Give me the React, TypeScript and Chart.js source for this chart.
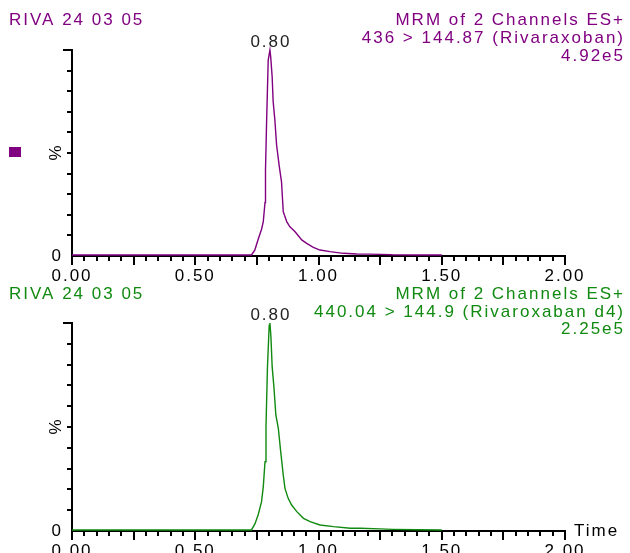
import React, { useEffect, useRef } from 'react';
import { Chart, registerables } from 'chart.js';

Chart.register(...registerables);

const FONT = '"Liberation Sans", Arial, sans-serif';
const FONT_SIZE = 17;
const SPACING = '2px';

const sampleName = 'RIVA 24 03 05';
const topHeader = ['MRM of 2 Channels ES+', '436 > 144.87 (Rivaraxoban)', '4.92e5'];
const bottomHeader = ['MRM of 2 Channels ES+', '440.04 > 144.9 (Rivaroxaban d4)', '2.25e5'];
const xTickLabels = ['0.00', '0.50', '1.00', '1.50', '2.00'];
const yZeroLabel = '0';
const yUnitLabel = '%';
const xAxisTitle = 'Time';

// Channel 1 (Rivaroxaban), relative intensity in %
const topTimes = [0, 0.728, 0.742, 0.755, 0.769, 0.776, 0.783, 0.785, 0.789, 0.796, 0.803, 0.806, 0.812, 0.816, 0.823, 0.830, 0.841, 0.850, 0.857, 0.871, 0.884, 0.905, 0.932, 0.952, 0.979, 1.006, 1.047, 1.101, 1.155, 1.2, 1.25, 1.3, 1.4, 1.5];
const topValues = [0.5, 0.5, 3, 8, 13, 16.7, 26, 41.7, 62.8, 95.1, 100, 96.8, 87, 75, 66, 53.9, 43.4, 36, 21.5, 16.7, 14.2, 11.8, 7.8, 6.1, 4.2, 2.9, 2.1, 1.3, 1.0, 0.9, 0.8, 0.6, 0.5, 0.5];

// Channel 2 (Rivaroxaban d4), relative intensity in %
const bottomTimes = [0, 0.728, 0.742, 0.755, 0.769, 0.776, 0.783, 0.787, 0.793, 0.800, 0.803, 0.807, 0.812, 0.819, 0.827, 0.837, 0.846, 0.857, 0.864, 0.877, 0.891, 0.912, 0.939, 0.966, 1.006, 1.061, 1.129, 1.17, 1.25, 1.3, 1.4, 1.5];
const bottomValues = [0.5, 0.5, 3.4, 7.7, 14.1, 21.3, 33.3, 50.2, 79, 99, 100, 93.4, 79, 69.4, 55.8, 49.4, 38.9, 26.9, 20.5, 15.7, 12.5, 9.3, 6.1, 4.5, 2.9, 2.1, 1.3, 1.3, 1.0, 0.8, 0.6, 0.5];

type PanelProps = {
  top: number;
  height: number;
  plotTop: number;
  zeroY: number;
  times: number[];
  values: number[];
  color: string;
  header: string[];
  headerY: number[];
  marker: boolean;
  timeTitle: boolean;
};

function Panel(p: PanelProps) {
  const ref = useRef<HTMLCanvasElement | null>(null);
  useEffect(() => {
    if (!ref.current) return;
    const setSpacing = (chart: any) => {
      try { (chart.ctx as any).letterSpacing = SPACING; } catch (e) { /* ignore */ }
    };
    const plugin = {
      id: 'masslynx',
      beforeUpdate: setSpacing,
      beforeLayout: setSpacing,
      beforeDraw: setSpacing,
      afterDraw: (chart: any) => {
        const ctx = chart.ctx as CanvasRenderingContext2D;
        const xs = chart.scales.x;
        const ys = chart.scales.y;
        const axisX = chart.chartArea.left;
        const axisY = ys.getPixelForValue(0);
        ctx.save();
        (ctx as any).letterSpacing = SPACING;
        ctx.strokeStyle = '#000';
        ctx.lineWidth = 2;
        ctx.beginPath();
        for (let i = 0; i <= 40; i++) {
          const px = Math.round(xs.getPixelForValue(i * 0.05));
          const len = i % 5 === 0 ? 9 : 5;
          ctx.moveTo(px, axisY);
          ctx.lineTo(px, axisY + len);
        }
        for (let i = 1; i <= 10; i++) {
          const py = Math.round(ys.getPixelForValue(i * 10));
          const len = i === 10 ? 9 : 5;
          ctx.moveTo(axisX - len, py);
          ctx.lineTo(axisX, py);
        }
        ctx.stroke();

        ctx.font = `${FONT_SIZE}px ${FONT}`;
        ctx.textBaseline = 'middle';
        // headers
        ctx.fillStyle = p.color;
        ctx.textAlign = 'left';
        ctx.fillText(sampleName, 9, p.headerY[0]);
        ctx.textAlign = 'right';
        p.header.forEach((t, i) => ctx.fillText(t, 625, p.headerY[i]));

        // % unit label
        ctx.save();
        ctx.fillStyle = '#000';
        ctx.translate(56, ys.getPixelForValue(50));
        ctx.rotate(-Math.PI / 2);
        ctx.textAlign = 'center';
        ctx.fillText(yUnitLabel, 1, 0);
        ctx.restore();

        if (p.marker) {
          ctx.fillStyle = p.color;
          ctx.fillRect(9, 147, 12, 10);
        }

        // peak label
        let mi = 0;
        p.values.forEach((v, i) => { if (v > p.values[mi]) mi = i; });
        ctx.fillStyle = '#222';
        ctx.textAlign = 'center';
        ctx.fillText(p.times[mi].toFixed(2), xs.getPixelForValue(p.times[mi]) + 1, ys.getPixelForValue(p.values[mi]) - 8);

        if (p.timeTitle) {
          ctx.fillStyle = '#000';
          ctx.textAlign = 'left';
          ctx.fillText(xAxisTitle, 574, axisY);
        }
        ctx.restore();
      },
    };

    const chart = new Chart(ref.current, {
      type: 'line',
      data: {
        datasets: [
          {
            data: p.times.map((t, i) => ({ x: t, y: p.values[i] })),
            borderColor: p.color,
            borderWidth: 1.4,
            pointRadius: 0,
            tension: 0,
            fill: false,
            clip: false as any,
          },
        ],
      },
      options: {
        animation: false,
        responsive: false,
        maintainAspectRatio: false,
        events: [],
        layout: { padding: { top: p.plotTop, right: 65, left: 0, bottom: 0 } },
        plugins: { legend: { display: false }, tooltip: { enabled: false } },
        scales: {
          x: {
            type: 'linear',
            min: 0,
            max: 2,
            grid: { display: true, drawOnChartArea: false, drawTicks: false },
            border: { display: true, color: '#000', width: 2 },
            ticks: {
              stepSize: 0.5,
              autoSkip: false,
              maxRotation: 0,
              padding: 10,
              color: '#000',
              font: { family: FONT, size: FONT_SIZE },
              callback: (_v: any, i: number) => xTickLabels[i] ?? '',
            },
            afterFit: (s: any) => { s.height = p.height - p.zeroY; },
          },
          y: {
            min: 0,
            max: 100,
            grid: { display: true, drawOnChartArea: false, drawTicks: false },
            border: { display: true, color: '#000', width: 2 },
            ticks: {
              stepSize: 50,
              padding: 9,
              color: '#000',
              font: { family: FONT, size: FONT_SIZE },
              callback: (v: any) => (Number(v) === 0 ? yZeroLabel : ''),
            },
            afterFit: (s: any) => { s.width = 72; },
          },
        },
      } as any,
      plugins: [plugin as any],
    });
    return () => chart.destroy();
  }, []);
  return (
    <canvas
      ref={ref}
      width={630}
      height={p.height}
      style={{ position: 'absolute', left: 0, top: p.top, width: 630, height: p.height }}
    />
  );
}

export default function App() {
  useEffect(() => {
    document.body.style.margin = '0';
    document.body.style.background = '#fff';
  }, []);
  return (
    <div style={{ position: 'absolute', left: 0, top: 0, width: 630, height: 553, background: '#fff' }}>
      <Panel
        top={0}
        height={285}
        plotTop={50}
        zeroY={256}
        times={topTimes}
        values={topValues}
        color="#800080"
        header={topHeader}
        headerY={[20, 38.5, 56]}
        marker={true}
        timeTitle={false}
      />
      <Panel
        top={274}
        height={279}
        plotTop={49}
        zeroY={257}
        times={bottomTimes}
        values={bottomValues}
        color="#108a10"
        header={bottomHeader}
        headerY={[20, 38, 55]}
        marker={false}
        timeTitle={true}
      />
    </div>
  );
}
